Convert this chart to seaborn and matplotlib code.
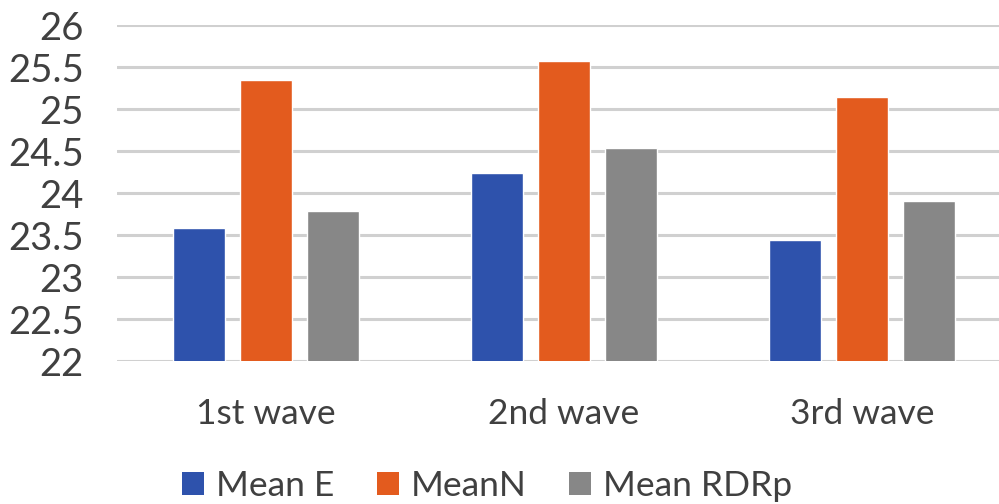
import matplotlib
matplotlib.use("Agg")
import matplotlib.pyplot as plt
import seaborn as sns
import pandas as pd
from matplotlib.patches import Patch

categories = ["1st wave", "2nd wave", "3rd wave"]
series = ["Mean E", "MeanN", "Mean RDRp"]
mean_e = [23.58, 24.24, 23.44]
mean_n = [25.35, 25.57, 25.14]
mean_rdrp = [23.79, 24.54, 23.90]
colors = ["#2E52AC", "#E35B1E", "#878787"]

rows = []
for s, vals in zip(series, [mean_e, mean_n, mean_rdrp]):
    for c, v in zip(categories, vals):
        rows.append({"cat": c, "series": s, "value": v})
df = pd.DataFrame(rows)

sns.set_theme(style="white")
plt.rcParams['font.family'] = ['Lato', 'DejaVu Sans']

fig = plt.figure(figsize=(9.99, 5.04), dpi=100)
ax = fig.add_axes([117/999, (504-361)/504, 894/999, 336/504])

sns.barplot(data=df, x="cat", y="value", hue="series", order=categories,
            hue_order=series, palette=colors, width=0.67, gap=0.22,
            saturation=1, ax=ax, legend=False, zorder=3)

ax.set_ylim(22, 26)
ax.set_xlim(-0.5, 2.5)
ax.set_yticks([22 + 0.5 * i for i in range(9)])
ax.set_yticklabels(["22", "22.5", "23", "23.5", "24", "24.5", "25", "25.5", "26"])
ax.yaxis.grid(True, color="#D0D0D0", linewidth=2.2, zorder=0)
ax.set_axisbelow(True)
for sp in ax.spines.values():
    sp.set_visible(False)
ax.set_xlabel("")
ax.set_ylabel("")
ax.tick_params(axis="y", length=0, pad=24, labelsize=27.5, labelcolor="#404040")
ax.tick_params(axis="x", length=0, pad=26.5, labelsize=25.5, labelcolor="#404040")

handles = [Patch(facecolor=c, edgecolor="none") for c in colors]
fig.legend(handles, series, loc="center", bbox_to_anchor=(487/999, 1 - 486/504),
           ncol=3, frameon=False, fontsize=25.5, labelcolor="#404040",
           handlelength=0.62, handleheight=0.62, handletextpad=0.34, columnspacing=1.19)

fig.savefig("out.png", dpi=100)
